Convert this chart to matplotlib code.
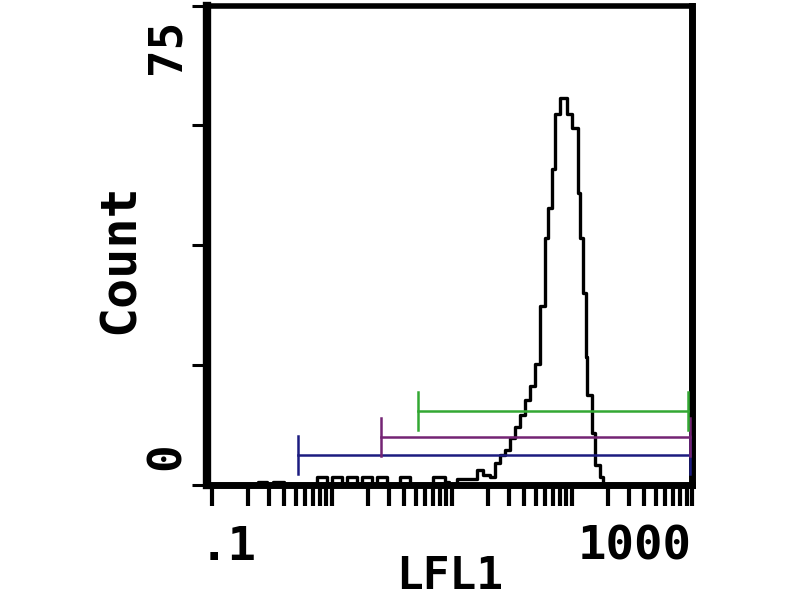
import numpy as np
import matplotlib
matplotlib.use("Agg")
import matplotlib.pyplot as plt
from matplotlib.ticker import FixedLocator, NullFormatter
import matplotlib.transforms as mtransforms

# ======================================================
# DATA
# ======================================================

# histogram steps: LFL1 value where each step starts, and its count
lfl1 = [0.1, 0.24, 0.29, 0.32, 0.40, 0.75, 0.91, 1.0, 1.21, 1.33, 1.62,
        1.78, 2.15, 2.37, 2.87, 3.69, 4.47, 6.95, 8.75, 9.44, 11.0, 16.2,
        18.1, 20.7, 22.8, 25.1, 27.7, 30.4, 33.5, 36.9, 40.6, 44.7, 49.2,
        54.1, 59.6, 63.1, 68.1, 72.1, 79.4, 90.8, 100, 112, 117, 124, 131,
        133, 147, 156, 171, 181]
count = [0, 0.5, 0, 0.5, 0, 1.2, 0, 1.2, 0, 1.2, 0,
         1.2, 0, 1.2, 0, 1.2, 0, 1.2, 0.5, 0, 1.0, 2.3,
         1.6, 1.2, 3.5, 4.7, 5.5, 7.3, 9.0, 11.0, 13.3, 15.5, 19.0,
         28.0, 38.7, 43.4, 49.4, 58.0, 60.5, 58.0, 55.8, 45.6, 38.7, 30.0, 20.0,
         14.0, 8.1, 3.1, 1.2, 0]

# marker gates (start, end, level)
gate_names = ["M1", "M2", "M3"]
gate_start = [0.52, 2.56, 5.2]
gate_end = [962, 962, 926]
gate_level = [4.7, 7.5, 11.6]
gate_colors = ["#1c1c80", "#742474", "#33a833"]

xticks_major = [0.1, 1, 10, 100, 1000]
yticks = [0, 18.75, 37.5, 56.25, 75]

# ======================================================
# PLOT
# ======================================================

fig = plt.figure(figsize=(8, 6), dpi=100)
ax = fig.add_axes([207 / 800, 1 - 485 / 600, 485 / 800, 479.5 / 600])

ax.plot(lfl1, count, drawstyle="steps-post", color="black", lw=2.4, zorder=2)

for s, e, lvl, c in zip(gate_start, gate_end, gate_level, gate_colors):
    ax.plot([s, e], [lvl, lvl], color=c, lw=1.8, zorder=3)
    ax.plot([s, s], [lvl - 3.0, lvl + 3.0], color=c, lw=1.8, zorder=3)
    ax.plot([e, e], [lvl - 3.0, lvl + 3.0], color=c, lw=1.8, zorder=3)

ax.set_xscale("log")
ax.set_xlim(0.091, 1000)
ax.set_ylim(0, 75)

ax.xaxis.set_major_locator(FixedLocator(xticks_major))
minors = [m * d for d in xticks_major[:-1] for m in range(2, 10)]
ax.xaxis.set_minor_locator(FixedLocator(minors))
ax.xaxis.set_major_formatter(NullFormatter())
ax.xaxis.set_minor_formatter(NullFormatter())
ax.tick_params(axis="x", which="both", direction="out", length=15, width=3,
               color="black", top=False)
ax.set_yticks(yticks)
ax.set_yticklabels([])
ax.tick_params(axis="y", direction="out", length=11, width=2.2, right=False)

ax.spines["left"].set_linewidth(6)
ax.spines["bottom"].set_linewidth(5)
ax.spines["top"].set_linewidth(4)
ax.spines["right"].set_linewidth(5)

font = dict(family="DejaVu Sans Mono", fontweight="bold", color="black")

# tick labels
tr = mtransforms.blended_transform_factory(ax.transAxes, ax.transData)
ax.text(-0.082, 73, "75", rotation=90, ha="center", va="top",
        transform=tr, fontsize=33, **font)
ax.text(-0.082, 2.3, "0", rotation=90, ha="center", va="bottom",
        transform=tr, fontsize=33, **font)

trx = mtransforms.blended_transform_factory(ax.transData, ax.transAxes)
ax.text(0.079, -0.083, ".1", ha="left", va="top", transform=trx,
        fontsize=34, **font)
ax.text(1000, -0.083, "1000", ha="right", va="top", transform=trx,
        fontsize=34, **font)

# axis titles
ax.text(0.5, -0.146, "LFL1", ha="center", va="top", transform=ax.transAxes,
        fontsize=32, **font)
ax.text(-0.179, 0.473, "Count", rotation=90, ha="center", va="center",
        transform=ax.transAxes, fontsize=36, **font)

fig.savefig("out.png", dpi=100)
